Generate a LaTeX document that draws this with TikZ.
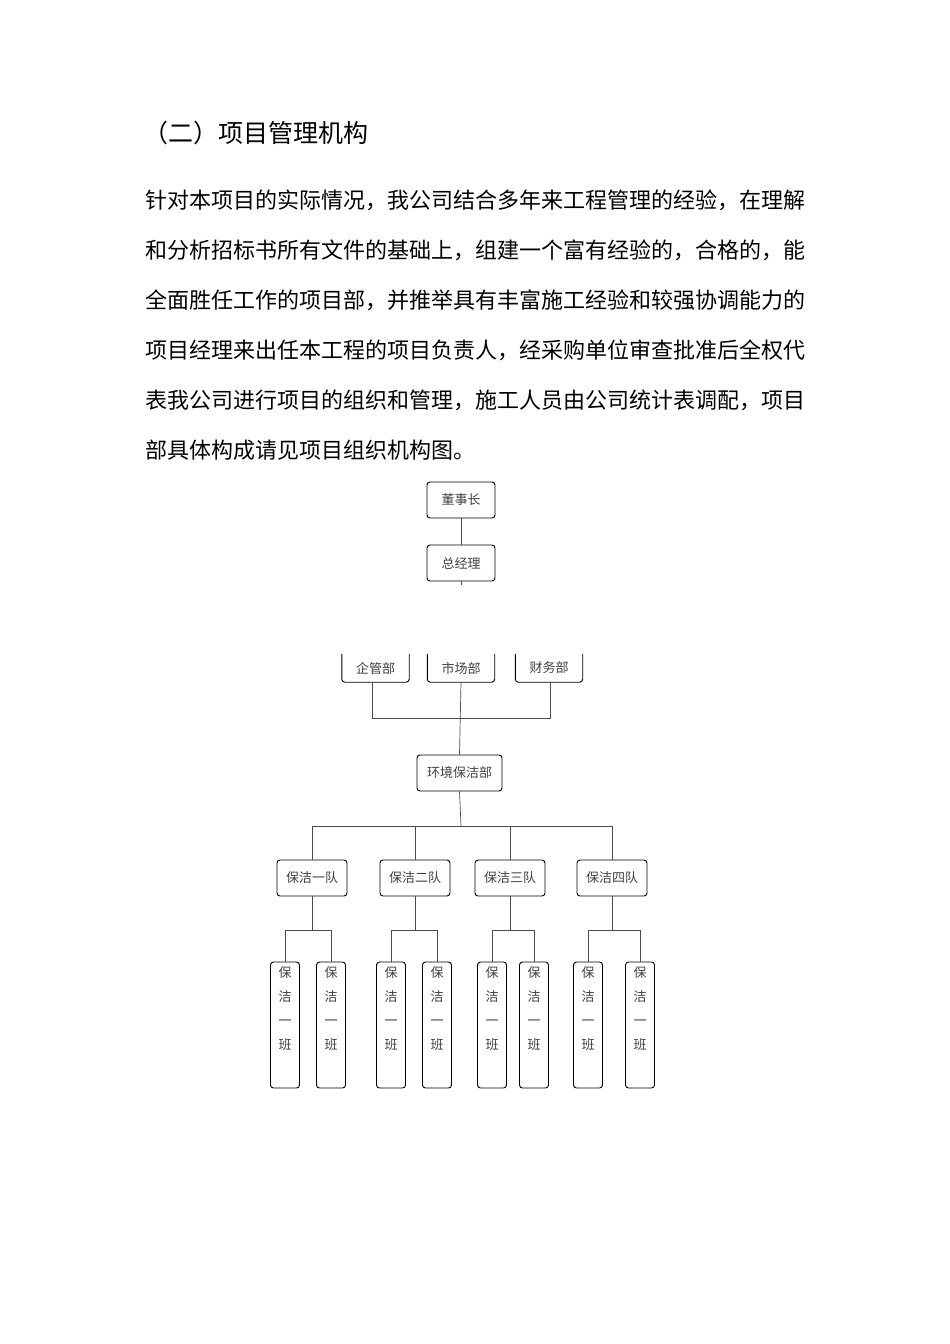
\documentclass[tikz,border=0pt]{standalone}
\usepackage{fontspec}
\usetikzlibrary{calc}
\setmainfont{Noto Sans CJK SC}
\begin{document}
\begin{tikzpicture}[x=1pt,y=-1pt,
  bx/.style={draw,rounded corners=3pt,line width=0.9pt,font=\fontsize{13}{15}\selectfont,inner sep=0pt,text=black!75},
  ln/.style={line width=0.7pt,black!70},
  para/.style={anchor=west,inner sep=0pt,font=\fontsize{22}{24}\selectfont}]
\useasboundingbox (0,0) rectangle (950,1344);
\node[anchor=west,inner sep=0pt,font=\fontsize{25}{28}\selectfont] (title) at (143,133) {（二）项目管理机构};
\node[para] (p1) at (145,200) {针对本项目的实际情况，我公司结合多年来工程管理的经验，在理解};
\node[para] (p2) at (145,250) {和分析招标书所有文件的基础上，组建一个富有经验的，合格的，能};
\node[para] (p3) at (145,300) {全面胜任工作的项目部，并推举具有丰富施工经验和较强协调能力的};
\node[para] (p4) at (145,350) {项目经理来出任本工程的项目负责人，经采购单位审查批准后全权代};
\node[para] (p5) at (145,400) {表我公司进行项目的组织和管理，施工人员由公司统计表调配，项目};
\node[para] (p6) at (145,450) {部具体构成请见项目组织机构图。};

\node[bx,minimum width=68,minimum height=36] (dsz) at (461,500) {董事长};
\node[bx,minimum width=68,minimum height=36] (zjl) at (461,563) {总经理};
\draw[ln] (dsz) -- (zjl);
\coordinate (zs) at (461,585);
\draw[ln] (zjl.south) -- (zs);

% open-top department boxes
\foreach \n/\cx/\t in {qg/375.5/企管部,sc/461/市场部,cw/549/财务部}{
  \node[inner sep=0pt,minimum width=67,minimum height=28,font=\fontsize{13}{15}\selectfont,text=black!75] (\n) at (\cx,668) {\t};
  \draw[line width=0.9pt,rounded corners=3pt] (\n.north west) -- (\n.south west) -- (\n.south east) -- (\n.north east);
}
\node[bx,minimum width=85,minimum height=36] (hj) at (459.5,773) {环境保洁部};
\coordinate (j1) at (372,718);
\coordinate (j2) at (550,718);
\draw[ln] (372,682) -- (j1) -- (j2) -- (550,682);
\draw[ln] (sc.south) -- (hj.north);

\foreach \n/\cx/\t in {d1/312/保洁一队,d2/415/保洁二队,d3/510/保洁三队,d4/612/保洁四队}{
  \node[bx,minimum width=70,minimum height=36] (\n) at (\cx,878) {\t};
}
\coordinate (hl) at (312,826);
\coordinate (hr) at (612,826);
\draw[ln] (hj.south) -- (461,826);
\draw[ln] (hl) -- (hr);
\foreach \n/\cx in {d1/312,d2/415,d3/510,d4/612}{\draw[ln] (\cx,826) -- (\n.north);}

\foreach \d/\a/\b in {d1/285/331,d2/391/437,d3/492/534,d4/588/640}{
  \node[bx,minimum width=29,minimum height=126,align=center,font=\fontsize{13}{24}\selectfont] (\d a) at (\a,1025) {保\\洁\\一\\班\\[10pt]};
  \node[bx,minimum width=29,minimum height=126,align=center,font=\fontsize{13}{24}\selectfont] (\d b) at (\b,1025) {保\\洁\\一\\班\\[10pt]};
  \draw[ln] (\d.south) -- ($(\d.south)+(0,34)$);
  \draw[ln] (\d a.north) |- (\d b.north |- 0,930) -- (\d b.north);
}
\end{tikzpicture}
\end{document}
